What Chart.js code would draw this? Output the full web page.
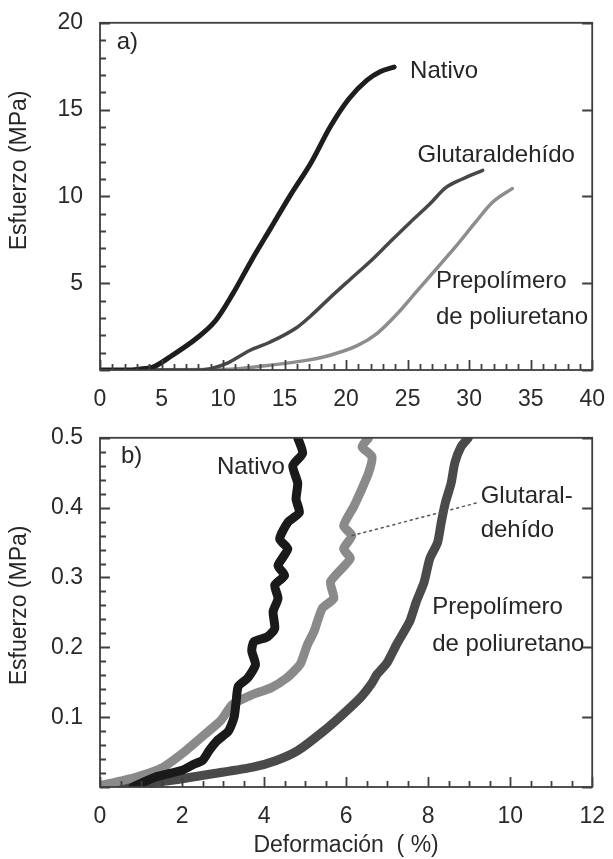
<!DOCTYPE html>
<html>
<head>
<meta charset="utf-8">
<script src="https://cdn.jsdelivr.net/npm/chart.js@4.4.1/dist/chart.umd.min.js"></script>
<style>
html, body { margin: 0; padding: 0; background: #fff; }
#boxA { position: absolute; left: 0; top: 0; }
#boxB { position: absolute; left: 0; top: 415px; }
</style>
</head>
<body>
<canvas id="boxA" width="613" height="415"></canvas>
<canvas id="boxB" width="613" height="444"></canvas>
<script>
// panel a) : full curves, deformation (%) vs stress (MPa)
const nativoAX = [0, 2, 3.2, 4.4, 5.9, 7.8, 9.4, 10.8, 12.3, 13.9, 15.5, 17.2, 18.7, 20.2, 21.7, 22.8, 23.9]
const nativoAY = [0, 0, 0.05, 0.2, 0.86, 1.8, 2.85, 4.4, 6.3, 8.2, 10.1, 12.0, 14.0, 15.6, 16.7, 17.2, 17.45]
const glutAX = [0, 8, 9.2, 10.3, 12.2, 13.8, 16.0, 17.1, 18.7, 20.3, 21.95, 23.6, 25.2, 26.8, 28.1, 29.45, 31.1]
const glutAY = [0, 0, 0.12, 0.38, 1.14, 1.6, 2.45, 3.1, 4.17, 5.2, 6.25, 7.4, 8.5, 9.56, 10.5, 11.0, 11.5]
const prepAX = [0, 10, 13.8, 16.9, 18.7, 20.9, 22.5, 24.1, 25.7, 27.3, 28.9, 30.5, 31.9, 33.5]
const prepAY = [0, 0.03, 0.28, 0.57, 0.85, 1.4, 2.1, 3.2, 4.5, 5.8, 7.1, 8.5, 9.66, 10.45]

// panel b) : zoom on the start of the curves
const nativoBX = [0.8, 1.34, 2.0, 2.3, 2.5, 2.66, 2.85, 3.13, 3.27, 3.32, 3.37, 3.6, 3.79, 3.7, 3.75, 4.08, 4.26, 4.22, 4.34, 4.26, 4.5, 4.34, 4.58, 4.38, 4.58, 4.86, 4.78, 4.82, 4.7, 4.94, 4.82]
const nativoBY = [0, 0.014, 0.024, 0.033, 0.038, 0.052, 0.066, 0.08, 0.1, 0.123, 0.144, 0.156, 0.175, 0.195, 0.208, 0.215, 0.227, 0.251, 0.27, 0.289, 0.303, 0.317, 0.341, 0.355, 0.379, 0.393, 0.412, 0.435, 0.46, 0.478, 0.5]
const glutBX = [0, 0.87, 1.53, 2.09, 2.57, 2.94, 3.23, 3.7, 4.17, 4.55, 4.83, 4.9, 5.06, 5.22, 5.42, 5.7, 5.62, 6.1, 5.94, 6.14, 5.94, 6.19, 6.34, 6.55, 6.63, 6.39, 6.55]
const glutBY = [0.002, 0.014, 0.028, 0.052, 0.076, 0.095, 0.118, 0.132, 0.142, 0.156, 0.172, 0.178, 0.204, 0.223, 0.256, 0.27, 0.294, 0.327, 0.341, 0.36, 0.374, 0.402, 0.421, 0.45, 0.473, 0.487, 0.5]
const prepBX = [0, 0.9, 1.8, 2.75, 3.7, 4.3, 4.82, 5.45, 5.9, 6.35, 6.62, 6.75, 7.0, 7.23, 7.55, 7.71, 7.9, 8.04, 8.23, 8.32, 8.42, 8.56, 8.65, 8.8, 8.98]
const prepBY = [0, 0.004, 0.01, 0.019, 0.028, 0.038, 0.052, 0.08, 0.103, 0.128, 0.148, 0.161, 0.178, 0.204, 0.237, 0.265, 0.293, 0.327, 0.35, 0.379, 0.407, 0.435, 0.464, 0.487, 0.5]
const leaderX = [6.15, 9.2]
const leaderY = [0.36, 0.407]

const xTicksA = [0, 40, 5, 1]     // min, max, major, minor
const yTicksA = [0, 20, 5, 1]
const xTicksB = [0, 12, 2, 0.5]
const yTicksB = [0, 0.5, 0.1, 0.02]

const FONT = '"Liberation Sans", Arial, sans-serif'

const pts = (xs, ys) => xs.map((x, i) => ({x, y: ys[i]}))

// frame with inward ticks, text labels and rotated y title
const makeFrame = (xt, yt, labels, yTitle) => ({
    id: 'frame',
    afterDatasetsDraw(chart) {
        const {ctx, chartArea: a, scales: {x, y}} = chart
        ctx.save()
        ctx.strokeStyle = '#3f3f3f'
        ctx.lineWidth = 1.8
        ctx.strokeRect(a.left, a.top, a.right - a.left, a.bottom - a.top)
        ctx.beginPath()
        const nx = Math.round((xt[1] - xt[0]) / xt[3])
        const kx = Math.round(xt[2] / xt[3])
        for (let i = 0; i <= nx; i++) {
            const px = Math.round(x.getPixelForValue(xt[0] + i * xt[3])) + 0.5
            ctx.moveTo(px, a.bottom)
            ctx.lineTo(px, a.bottom - (i % kx === 0 ? 10 : 6))
        }
        const ny = Math.round((yt[1] - yt[0]) / yt[3])
        const ky = Math.round(yt[2] / yt[3])
        for (let i = 0; i <= ny; i++) {
            const py = Math.round(y.getPixelForValue(yt[0] + i * yt[3])) + 0.5
            ctx.moveTo(a.left, py)
            ctx.lineTo(a.left + (i % ky === 0 ? 10 : 6), py)
            if (i % ky === 0) {
                ctx.moveTo(a.right, py)
                ctx.lineTo(a.right - 10, py)
            }
        }
        ctx.stroke()

        ctx.fillStyle = '#262626'
        ctx.font = '24px ' + FONT
        ctx.textBaseline = 'middle'
        ctx.textAlign = 'left'
        labels.forEach(l => {
            ctx.fillText(l[0], x.getPixelForValue(l[1]), y.getPixelForValue(l[2]))
        })
        ctx.translate(yTitle[1], y.getPixelForValue(yTitle[2]))
        ctx.rotate(-Math.PI / 2)
        ctx.textAlign = 'center'
        ctx.font = '23px ' + FONT
        ctx.fillText(yTitle[0], 0, 0)
        ctx.restore()
    }
})

const makeChart = (id, datasets, xt, yt, xHeight, yFmt, labels, yTitle, xTitle) => {
    return new Chart(document.getElementById(id), {
        type: 'line',
        data: {datasets},
        options: {
            responsive: false,
            animation: false,
            layout: {autoPadding: false, padding: {left: 0, right: 15, top: 19, bottom: 0}},
            elements: {point: {radius: 0}, line: {borderCapStyle: 'round', borderJoinStyle: 'round'}},
            plugins: {
                legend: {display: false},
                tooltip: {enabled: false}
            },
            scales: {
                x: {
                    type: 'linear', min: xt[0], max: xt[1],
                    grid: {display: false}, border: {display: false},
                    ticks: {stepSize: xt[2], autoSkip: false, maxRotation: 0, padding: 8, color: '#2a2a2a', font: {size: 23, family: FONT}},
                    title: {display: !!xTitle, text: xTitle || '', color: '#2a2a2a', padding: {top: 0, bottom: 0}, font: {size: 23, family: FONT}},
                    afterFit: s => { s.height = xHeight }
                },
                y: {
                    min: yt[0], max: yt[1],
                    grid: {display: false}, border: {display: false},
                    ticks: {stepSize: yt[2], padding: 9, color: '#2a2a2a', font: {size: 23, family: FONT}, callback: yFmt},
                    afterFit: s => { s.width = 100 }
                }
            }
        },
        plugins: [makeFrame(xt, yt, labels, yTitle)]
    })
}

makeChart('boxA', [
    {data: pts(nativoAX, nativoAY), borderColor: '#1d1d1d', borderWidth: 5, cubicInterpolationMode: 'monotone'},
    {data: pts(glutAX, glutAY), borderColor: '#474747', borderWidth: 3.5, cubicInterpolationMode: 'monotone'},
    {data: pts(prepAX, prepAY), borderColor: '#8d8d8d', borderWidth: 3.5, cubicInterpolationMode: 'monotone'}
], xTicksA, yTicksA, 45, v => v === 0 ? '' : v,
[['a)', 1.36, 18.9], ['Nativo', 25.2, 17.2], ['Glutaraldehído', 25.8, 12.35], ['Prepolímero', 27.3, 5.13], ['de poliuretano', 27.3, 3.04]],
['Esfuerzo (MPa)', 20, 11.5], null)

makeChart('boxB', [
    {data: pts(leaderX, leaderY), borderColor: '#555', borderWidth: 1.5, borderDash: [2, 4]},
    {data: pts(nativoBX, nativoBY), borderColor: '#1a1a1a', borderWidth: 9, tension: 0.2},
    {data: pts(glutBX, glutBY), borderColor: '#8a8a8a', borderWidth: 9, tension: 0.2},
    {data: pts(prepBX, prepBY), borderColor: '#4a4a4a', borderWidth: 9, tension: 0.2}
], xTicksB, yTicksB, 72, v => v === 0 ? '' : v.toFixed(1),
[['b)', 0.51, 0.473], ['Nativo', 2.85, 0.457], ['Glutaral-', 9.28, 0.416], ['dehído', 9.28, 0.367], ['Prepolímero', 8.1, 0.257], ['de poliuretano', 8.1, 0.204]],
['Esfuerzo (MPa)', 20, 0.26], 'Deformación  ( %)')
</script>
</body>
</html>
